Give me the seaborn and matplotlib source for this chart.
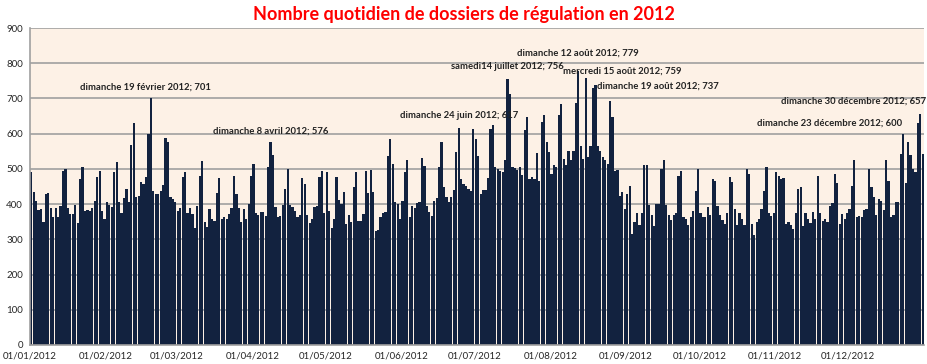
import numpy as np
import pandas as pd
import matplotlib
matplotlib.use("Agg")
import matplotlib.pyplot as plt
import seaborn as sns

# dossiers de regulation par jour (lecture du graphique)
janvier = [490, 433, 410, 384, 386, 348, 430, 432, 388, 362, 390, 362, 395, 495, 500, 390,
           371, 371, 398, 345, 471, 505, 381, 382, 381, 390, 410, 476, 493, 380, 357]
fevrier = [405, 398, 392, 492, 519, 405, 376, 416, 442, 405, 567, 629, 419, 424, 462, 457,
           476, 598, 701, 438, 430, 430, 438, 454, 589, 576, 419, 414, 405]
mars = [381, 390, 476, 492, 376, 390, 371, 333, 395, 481, 521, 348, 336, 386, 357, 352,
        431, 473, 357, 362, 357, 373, 390, 481, 429, 390, 350, 386, 357, 400, 481]
avril = [514, 376, 370, 379, 379, 367, 505, 576, 540, 392, 362, 367, 398, 443, 500, 398,
         393, 381, 362, 370, 474, 457, 370, 346, 357, 393, 395, 476, 495, 376]
mai = [490, 381, 333, 357, 476, 411, 400, 433, 343, 369, 348, 450, 492, 352, 352, 373,
       495, 431, 497, 435, 324, 326, 364, 376, 378, 538, 586, 514, 405, 400, 357]
juin = [410, 490, 524, 362, 395, 390, 402, 405, 531, 507, 395, 379, 367, 410, 417, 505,
        576, 448, 419, 405, 421, 440, 548, 617, 471, 457, 452, 443, 438, 614]
juillet = [586, 538, 430, 440, 440, 474, 614, 624, 505, 500, 495, 492, 524, 756, 714, 505,
           503, 497, 505, 484, 610, 646, 471, 476, 471, 545, 467, 633, 652, 576, 548]
aout = [486, 510, 505, 652, 684, 529, 510, 550, 524, 552, 686, 779, 564, 529, 759, 533,
        564, 729, 737, 564, 552, 533, 524, 514, 693, 646, 495, 497, 424, 435, 386]
septembre = [429, 452, 315, 350, 376, 340, 376, 510, 512, 398, 370, 338, 400, 400, 500, 524,
             398, 370, 354, 370, 376, 481, 495, 362, 357, 341, 362, 381, 438, 500]
octobre = [376, 362, 362, 392, 370, 471, 467, 395, 370, 354, 343, 376, 478, 462, 386, 340,
           376, 357, 341, 500, 486, 343, 312, 348, 357, 386, 438, 505, 376, 367, 376]
novembre = [490, 481, 471, 474, 343, 348, 341, 329, 376, 443, 450, 338, 376, 357, 345, 379,
            357, 481, 376, 352, 357, 348, 395, 402, 486, 459, 343, 371, 357, 376]
decembre = [386, 452, 524, 362, 367, 362, 383, 386, 500, 450, 419, 370, 414, 410, 383, 524,
            467, 362, 370, 405, 405, 541, 600, 460, 576, 540, 500, 490, 630, 657, 541]

valeurs = (janvier + fevrier + mars + avril + mai + juin + juillet + aout
           + septembre + octobre + novembre + decembre)

annot_dates = ["2012-02-19", "2012-04-08", "2012-06-24", "2012-07-14", "2012-08-12",
               "2012-08-15", "2012-08-19", "2012-12-30", "2012-12-23"]
annot_textes = ["dimanche 19 février 2012; 701", "dimanche 8 avril 2012; 576",
                "dimanche 24 juin 2012; 617", "samedi14 juillet 2012; 756",
                "dimanche 12 août 2012; 779", "mercredi 15 août 2012; 759",
                "dimanche 19 août 2012; 737", "dimanche 30 décembre 2012; 657",
                "dimanche 23 décembre 2012; 600"]
# decalage du texte par rapport au sommet de la barre (pixels)
annot_decal = [(-5, 11), (0, 11), (0, 12), (0, 12), (0, 17),
               (37, 7), (62, -1), (-67, 12), (-74, 11)]

TITRE = "Nombre quotidien de dossiers de régulation en 2012"
BARRE = "#12223f"
FOND = "#fdf1e6"
GRIS = "#a0a0a0"

jours = pd.date_range("2012-01-01", "2012-12-31", freq="D")
df = pd.DataFrame({"jour": jours, "dossiers": valeurs})
df["pos"] = np.arange(len(df))

sns.set_theme(style="white")
plt.rcParams["font.family"] = ["Lato", "DejaVu Sans"]

fig = plt.figure(figsize=(9.28, 3.64), dpi=100)
ax = fig.add_axes([30 / 928, 19 / 364, 894 / 928, 317 / 364])
ax.set_facecolor(FOND)
sns.barplot(data=df, x="pos", y="dossiers", color=BARRE, saturation=1, width=0.9,
            errorbar=None, linewidth=0, ax=ax)

ax.set_xlim(-0.5, len(df) - 0.5)
ax.set_ylim(0, 900)
ax.set_yticks(range(0, 901, 100))
ax.yaxis.grid(True, color=GRIS, linewidth=1.2)
ax.set_axisbelow(True)

debuts = df.index[df["jour"].dt.day == 1]
ax.set_xticks(debuts - 0.5)
ax.set_xticklabels(df.loc[debuts, "jour"].dt.strftime("%d/%m/%Y"))
ax.set_xlabel("")
ax.set_ylabel("")
ax.tick_params(axis="both", labelsize=7, length=3, color=GRIS, pad=2)
for s in ["top", "right"]:
    ax.spines[s].set_visible(False)
for s in ["left", "bottom"]:
    ax.spines[s].set_color(GRIS)
    ax.spines[s].set_linewidth(1.2)

for d, txt, (dx, dy) in zip(annot_dates, annot_textes, annot_decal):
    i = df.index[df["jour"] == pd.Timestamp(d)][0]
    ax.annotate(txt, xy=(i, df.loc[i, "dossiers"]), xytext=(dx, dy),
                textcoords="offset pixels", ha="center", va="center",
                fontsize=6.8, fontweight="bold", color="#222222")

fig.text(0.5, 0.959, TITRE, ha="center", va="center", color="#ff0000",
         fontsize=13, fontweight="bold")

fig.savefig("out.png", dpi=100, facecolor="white")
